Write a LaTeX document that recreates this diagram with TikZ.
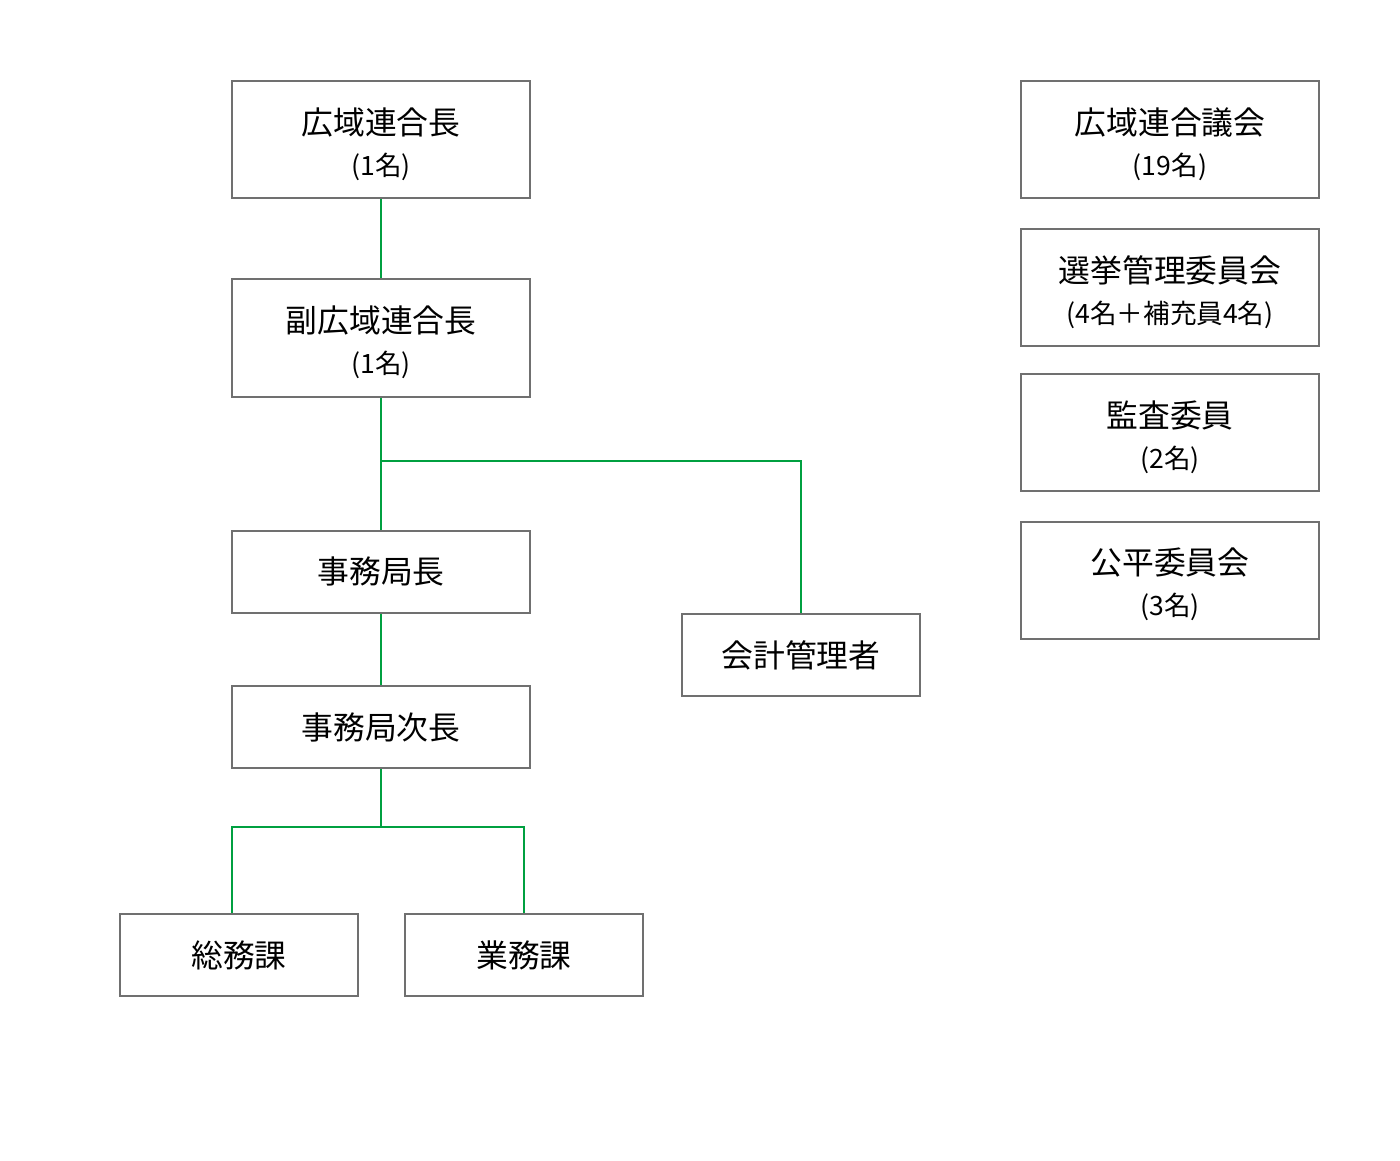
\documentclass[tikz,border=0pt]{standalone}
\usepackage{fontspec}
\setmainfont{Noto Sans CJK JP}
\definecolor{boxgray}{HTML}{707070}
\definecolor{lineg}{HTML}{00A040}
\newcommand{\twol}[2]{{\fontsize{15.9pt}{18pt}\selectfont\rule{0pt}{18pt}#1}\\[7pt]{\fontsize{13.3pt}{15pt}\selectfont #2}}
\newcommand{\onel}[1]{{\fontsize{15.9pt}{18pt}\selectfont #1}}
\begin{document}
\begin{tikzpicture}[x=0.5pt,y=-0.5pt,
  orgbox/.style={draw=boxgray,line width=1pt,fill=white,inner sep=0pt,align=center,text=black},
  bigbox/.style={orgbox,minimum width=149pt,minimum height=58.5pt},
  midbox/.style={orgbox,minimum width=149pt,minimum height=41pt},
  smallbox/.style={orgbox,minimum width=119pt,minimum height=41pt},
  conn/.style={draw=lineg,line width=1pt}]
\useasboundingbox (0,0) rectangle (1400,1160);
\node[bigbox] (chief) at (381,139.5) {\twol{広域連合長}{(1名)}};
\node[bigbox] (vice) at (381,338) {\twol{副広域連合長}{(1名)}};
\node[midbox] (dir) at (381,571.5) {\onel{事務局長}};
\node[smallbox] (acct) at (801,655) {\onel{会計管理者}};
\node[midbox] (dep) at (381,727) {\onel{事務局次長}};
\node[smallbox] (gen) at (239,955) {\onel{総務課}};
\node[smallbox] (biz) at (524,955) {\onel{業務課}};
\node[bigbox] (asm) at (1170,139.5) {\twol{広域連合議会}{(19名)}};
\node[bigbox] (elec) at (1170,287.5) {\twol{選挙管理委員会}{(4名＋補充員4名)}};
\node[bigbox] (aud) at (1170,432.5) {\twol{監査委員}{(2名)}};
\node[bigbox] (fair) at (1170,580) {\twol{公平委員会}{(3名)}};
\coordinate (b1) at (381,461);
\coordinate (b2) at (381,827);
\draw[conn] (chief.south) -- (vice.north);
\draw[conn] (vice.south) -- (dir.north);
\draw[conn] (b1) -| (acct.north);
\draw[conn] (dir.south) -- (dep.north);
\draw[conn] (dep.south) -- (b2);
\draw[conn] (b2) -| (gen.north -| 232,0);
\draw[conn] (b2) -| (biz.north);
\end{tikzpicture}
\end{document}
